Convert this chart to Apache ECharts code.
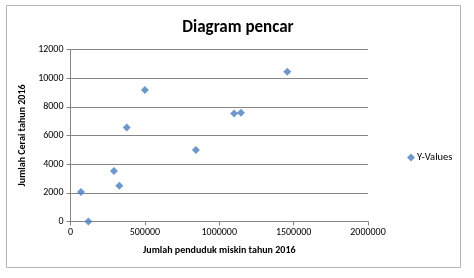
<!DOCTYPE html>
<html><head><meta charset="utf-8">
<script src="https://cdn.jsdelivr.net/npm/echarts@6/dist/echarts.min.js"></script>
<style>html,body{margin:0;padding:0;background:#fff}#c{width:474px;height:278px}</style>
</head><body><div id="c"></div>
<script>
const xValues = [70000, 120000, 292000, 328000, 378000, 500000, 843000, 1100000, 1146000, 1457000];
const yValues = [2050, 0, 3520, 2500, 6560, 9170, 4990, 7540, 7590, 10440];
const seriesName = 'Y-Values';
const titleText = 'Diagram pencar';
const xAxisName = 'Jumlah penduduk miskin tahun 2016';
const yAxisName = 'Jumlah Cerai tahun 2016';

const font = 'Calibri, Carlito, Lato, sans-serif';
const chart = echarts.init(document.getElementById('c'), null, {renderer: 'canvas'});
chart.setOption({
  animation: false,
  backgroundColor: '#fff',
  graphic: [{type: 'rect', shape: {x: 6.5, y: 5.5, width: 454, height: 262}, style: {fill: 'none', stroke: '#b5b5b5', lineWidth: 1}, z: -1}],
  title: {text: titleText, left: 233, top: 14, textAlign: 'center',
    textStyle: {fontFamily: font, fontSize: 17, fontWeight: 'bold', color: '#000'}},
  grid: {left: 70.5, right: 106, top: 49.5, bottom: 56.5},
  legend: {orient: 'vertical', left: 402, top: 147, itemWidth: 8, itemHeight: 8, itemGap: 4,
    data: [{name: seriesName, icon: 'diamond'}],
    textStyle: {fontFamily: font, fontSize: 10.5, color: '#000', padding: [0, 0, 0, -3]}},
  xAxis: {type: 'value', min: 0, max: 2000000, interval: 500000,
    name: xAxisName, nameLocation: 'middle', nameGap: 24,
    nameTextStyle: {fontFamily: font, fontSize: 10, fontWeight: 'bold', color: '#000'},
    axisLine: {show: true, lineStyle: {color: '#868686'}},
    axisTick: {show: true, inside: false, length: 4, lineStyle: {color: '#868686'}},
    axisLabel: {fontFamily: font, fontSize: 10, color: '#000', margin: 6, formatter: v => String(v)},
    splitLine: {show: false}},
  yAxis: {type: 'value', min: 0, max: 12000, interval: 2000,
    name: yAxisName, nameLocation: 'middle', nameGap: 36, nameRotate: 90,
    nameTextStyle: {fontFamily: font, fontSize: 10, fontWeight: 'bold', color: '#000'},
    axisLine: {show: true, lineStyle: {color: '#868686'}},
    axisTick: {show: true, inside: false, length: 4, lineStyle: {color: '#868686'}},
    axisLabel: {fontFamily: font, fontSize: 10, color: '#000', margin: 7, formatter: v => String(v)},
    splitLine: {show: true, lineStyle: {color: '#868686', width: 1}}},
  series: [{name: seriesName, type: 'scatter', symbol: 'diamond', symbolSize: 8,
    itemStyle: {color: '#4a7ebb'},
    data: xValues.map((x, i) => [x, yValues[i]])}]
});
</script></body></html>
